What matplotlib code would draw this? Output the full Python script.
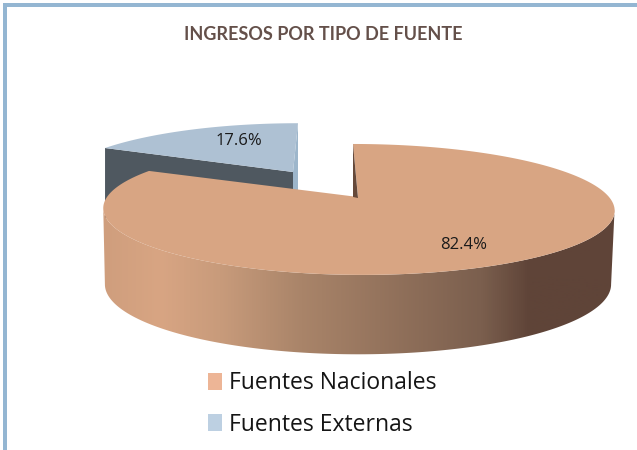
import numpy as np
import matplotlib
matplotlib.use('Agg')
import matplotlib.pyplot as plt
from matplotlib.patches import Polygon, Patch
from matplotlib.colors import LinearSegmentedColormap

title = 'INGRESOS POR TIPO DE FUENTE'
categories = ['Fuentes Nacionales', 'Fuentes Externas']
shares = [82.4, 17.6]
top_colors = ['#d8a583', '#aec1d3']
legend_colors = ['#edb596', '#bdd0e2']


# circulo unitario -> pixeles, con perspectiva (lo de atras se ve mas chico)
def project(angle, cx, cy, scale=1.0, shear=0.0, yscale=1.0):
    u = np.sin(angle)
    v = np.cos(angle)
    d = 1 + 0.19 * v
    x = cx + scale * 251 * u / d + shear * v
    y = cy - scale * yscale * 63.1 * v / d
    return np.column_stack([x, y])


fig = plt.figure(figsize=(6.37, 4.5), dpi=100)
ax = fig.add_axes([0, 0, 1, 1])
ax.set_xlim(0, 637)
ax.set_ylim(450, 0)
ax.axis('off')

# marco
ax.fill_between([3, 637], 2.7, 6.7, color='#94b6d2', lw=0)
ax.fill_between([3, 6.5], 2.7, 450, color='#94b6d2', lw=0)

# sector azul (detras)
end1 = 2 * np.pi * shares[0] / 100
t = np.linspace(end1, 2 * np.pi, 60)
bx, by = 293, 172
arc = project(t, bx, by, 0.92, 5)
left = arc[0]
top = arc[-1]
depth = 70
ax.add_patch(Polygon([left, [bx, by], [bx, by + depth], [left[0], left[1] + depth]],
                     fc='#4f5860', ec='none', zorder=2))
ax.add_patch(Polygon([top, [bx, by], [bx, by + depth], [top[0], top[1] + depth]],
                     fc='#9db6cb', ec='none', zorder=2))
ax.add_patch(Polygon(np.vstack([[bx, by], arc]), fc=top_colors[1], ec='none', zorder=3))
ax.text(239, 141, '%.1f%%' % shares[1], ha='center', va='center', fontsize=12,
        family='Open Sans', color='#1a1a1a', zorder=6)

# sector naranja
cx, cy = 358, 197
t = np.linspace(0, end1, 240)
arc = project(t, cx, cy, shear=-5)

# pared interior del corte
ax.add_patch(Polygon([arc[0], [cx, cy + 1], [cx - 5, cy]], fc='#66493a', ec='none', zorder=6))

# costado con degradado
front = np.linspace(np.pi * 0.56, np.pi * 1.44, 200)
edge_top = project(front, cx, cy, shear=-5)
edge_low = project(front, cx, cy + 74, scale=0.99, yscale=1.08)
side = Polygon(np.vstack([edge_top, edge_low[::-1]]), fc='none', ec='none', zorder=4)
ax.add_patch(side)
cmap = LinearSegmentedColormap.from_list('lado', [(0, '#5f4438'), (0.166, '#5f4438'), (0.26, '#7b5f4e'),
                                                 (0.61, '#a98469'), (0.77, '#c89b7b'),
                                                 (0.887, '#d8a583'), (1, '#cf9e7d')])
grad = np.linspace(0, 1, 512).reshape(1, -1)
img = ax.imshow(grad, cmap=cmap, extent=[615, 102, 360, 190], aspect='auto', zorder=4)
img.set_clip_path(side)
ax.set_xlim(0, 637)
ax.set_ylim(450, 0)

ax.add_patch(Polygon(np.vstack([[cx, cy], arc]), fc=top_colors[0], ec='none', zorder=5))
ax.text(464, 245, '%.1f%%' % shares[0], ha='center', va='center', fontsize=12,
        family='Open Sans', color='#1a1a1a', zorder=6)

ax.text(323, 34, title, ha='center', va='center', fontsize=13, fontweight='bold',
        family='Lato', color='#64504a')

handles = [Patch(fc=c, ec='none') for c in legend_colors]
ax.legend(handles, categories, loc='center left', bbox_to_anchor=(208 / 637, 1 - 404 / 450),
          frameon=False, handlelength=0.61, handleheight=0.8,
          handletextpad=0.3, labelspacing=0.75, borderpad=0, borderaxespad=0,
          labelcolor='#151515', prop={'family': 'Open Sans', 'size': 16.5})

fig.savefig('out.png', dpi=100)
